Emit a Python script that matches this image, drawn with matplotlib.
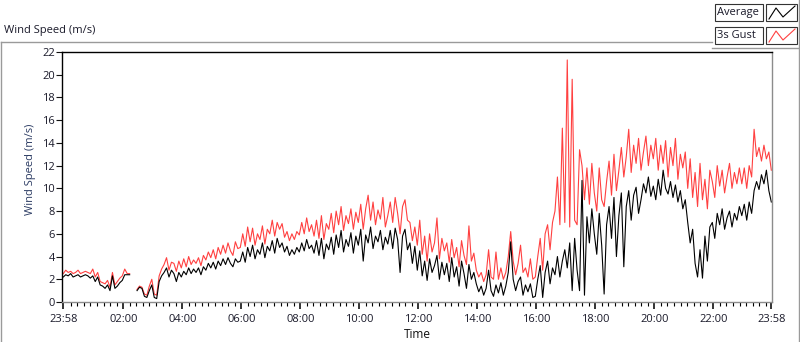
import matplotlib
matplotlib.use("Agg")
import matplotlib.pyplot as plt
import numpy as np
from matplotlib.lines import Line2D
from matplotlib.patches import Rectangle

nan = np.nan

# one value every 5 minutes, starting 23:58
minutes = np.arange(0, 1441, 5)

average = [
    2.2, 2.4, 2.3, 2.5, 2.2, 2.3, 2.4, 2.2, 2.3, 2.4, 2.3, 2.1,
    2.3, 1.8, 2.2, 1.5, 1.4, 1.2, 1.5, 1.0, 2.3, 1.2, 1.4, 1.7,
    1.9, 2.4, 2.4, 2.4, nan, nan, 1.0, 1.3, 1.2, 0.5, 0.4, 1.0,
    1.5, 0.4, 0.3, 1.8, 2.3, 2.6, 3.0, 2.2, 2.8, 2.5, 1.8, 2.6,
    2.2, 2.7, 2.4, 3.0, 2.5, 2.9, 2.6, 3.0, 2.4, 3.1, 2.8, 3.4,
    3.0, 3.5, 2.9, 3.6, 3.2, 3.8, 3.3, 3.9, 3.4, 3.1, 3.8, 3.5,
    3.6, 4.4, 3.5, 4.8, 4.0, 5.0, 3.8, 4.6, 4.2, 5.2, 3.9, 4.9,
    4.5, 5.4, 4.3, 5.6, 4.8, 5.2, 4.4, 4.9, 4.1, 4.6, 4.2, 4.8,
    4.4, 5.2, 4.5, 5.5, 4.7, 5.0, 4.3, 5.4, 4.1, 5.6, 3.8, 5.1,
    4.6, 5.7, 4.2, 5.9, 4.8, 6.3, 4.4, 5.5, 4.9, 6.1, 4.3, 5.8,
    5.0, 6.4, 3.6, 5.9, 5.2, 6.6, 4.7, 5.8, 5.3, 6.3, 4.6, 5.7,
    5.1, 6.3, 4.7, 6.5, 5.5, 2.6, 5.8, 6.4, 4.6, 5.2, 3.4, 4.9,
    2.8, 4.5, 2.3, 3.6, 1.9, 3.8, 2.6, 3.2, 4.1, 2.0, 3.5, 2.4,
    3.4, 1.8, 3.9, 2.2, 3.1, 1.4, 3.6, 2.5, 1.2, 3.3, 2.0, 2.6,
    1.6, 0.9, 1.4, 0.6, 1.2, 2.8, 1.0, 0.5, 1.5, 0.8, 1.7, 0.6,
    1.4, 2.6, 5.3, 2.0, 1.0, 1.8, 2.2, 0.6, 1.5, 0.9, 1.6, 0.4,
    0.5, 2.0, 3.2, 0.4, 2.6, 3.6, 1.6, 3.0, 2.4, 4.0, 2.2, 3.6,
    4.6, 3.0, 5.2, 1.0, 5.6, 2.8, 1.0, 10.7, 0.6, 7.5, 5.2, 8.2,
    6.0, 4.2, 7.8, 5.0, 0.7, 6.8, 8.4, 5.6, 9.2, 4.0, 7.6, 9.6,
    3.1, 8.4, 9.8, 7.2, 9.4, 10.1, 7.8, 9.0, 10.4, 9.6, 11.0, 9.3,
    10.2, 9.0, 10.8, 9.4, 11.6, 10.0, 9.5, 10.6, 9.2, 10.3, 8.8, 9.8,
    8.2, 9.0, 7.0, 5.2, 6.4, 3.4, 2.2, 4.6, 2.1, 5.8, 3.6, 6.6,
    7.0, 5.6, 7.8, 6.8, 8.2, 6.4, 7.4, 8.0, 6.6, 7.8, 7.2, 8.4,
    7.6, 8.6, 7.2, 8.8, 7.8, 9.8, 10.6, 9.9, 11.2, 10.4, 11.6, 9.8,
    8.8,
]

gust = [
    2.5, 2.8, 2.6, 2.7, 2.5, 2.6, 2.8, 2.5, 2.6, 2.7, 2.6, 2.5,
    2.9, 2.2, 2.6, 1.8, 1.7, 1.6, 1.9, 1.3, 2.6, 1.5, 1.8, 2.1,
    2.3, 2.9, 2.5, 2.5, nan, nan, 1.1, 1.4, 1.3, 0.7, 0.6, 1.4,
    2.0, 0.7, 0.6, 2.3, 2.9, 3.3, 3.9, 2.8, 3.5, 3.4, 2.7, 3.6,
    3.0, 3.8, 3.1, 4.0, 3.3, 3.7, 3.4, 3.9, 3.2, 4.1, 3.7, 4.4,
    3.9, 4.6, 3.8, 4.8, 4.2, 5.0, 4.3, 5.2, 4.5, 4.1, 5.3, 4.7,
    4.8, 6.0, 4.9, 6.6, 5.3, 6.5, 5.0, 6.0, 5.5, 6.7, 5.1, 6.4,
    6.0, 7.2, 5.8, 7.0, 6.4, 6.9, 5.7, 6.2, 5.4, 6.0, 5.5, 6.2,
    5.9, 7.0, 6.0, 7.4, 6.2, 6.8, 5.8, 7.2, 5.6, 7.6, 5.5, 6.9,
    6.4, 7.8, 6.1, 8.0, 6.8, 8.4, 6.3, 7.6, 6.9, 8.2, 6.4, 7.9,
    7.0, 8.6, 6.4, 8.2, 9.4, 7.2, 8.8, 6.8, 8.1, 7.3, 9.2, 6.6,
    7.6, 8.8, 7.0, 9.2, 7.8, 6.0, 8.4, 9.0, 7.2, 7.0, 5.4, 6.6,
    5.0, 7.2, 4.2, 5.8, 3.6, 6.0, 4.4, 5.2, 7.4, 3.8, 5.6, 4.5,
    5.2, 3.5, 5.5, 3.9, 4.8, 3.1, 5.4, 4.1, 3.3, 6.7, 3.6, 4.3,
    2.8, 2.2, 2.6, 1.8, 2.4, 4.6, 2.2, 2.0, 4.4, 2.0, 3.0, 2.0,
    2.6, 4.0, 6.2, 3.6, 2.4, 3.4, 5.0, 2.6, 3.0, 2.2, 3.8, 2.0,
    2.2, 4.0, 5.6, 2.8, 6.0, 6.8, 4.6, 7.0, 8.0, 11.0, 6.8, 15.3,
    7.0, 21.3, 6.6, 19.6, 7.2, 6.8, 13.4, 12.0, 9.0, 11.8, 8.6, 12.2,
    9.6, 8.0, 11.8, 9.0, 8.4, 10.6, 12.4, 9.4, 13.0, 9.8, 11.6, 13.6,
    11.0, 12.8, 15.2, 11.4, 13.8, 12.2, 14.4, 11.6, 13.2, 14.6, 12.0, 13.8,
    12.6, 14.4, 11.6, 13.8, 12.2, 14.2, 11.0, 13.6, 12.0, 14.4, 10.8, 13.0,
    11.8, 13.2, 10.0, 12.6, 9.2, 11.4, 8.4, 12.2, 9.0, 10.8, 8.2, 11.6,
    10.6, 9.2, 12.0, 10.2, 11.6, 9.6, 11.0, 12.2, 10.0, 11.4, 10.4, 11.8,
    10.4, 11.8, 10.0, 12.0, 11.0, 15.2, 12.8, 13.6, 12.4, 13.8, 12.6, 13.2,
    11.6,
]

tick_minutes = [0, 122, 242, 362, 482, 602, 722, 842, 962, 1082, 1202, 1322, 1440]
tick_labels = ["23:58", "02:00", "04:00", "06:00", "08:00", "10:00", "12:00",
               "14:00", "16:00", "18:00", "20:00", "22:00", "23:58"]
series_names = ["Average", "3s Gust"]
series_colors = ["#000000", "#ff4040"]

plt.rcParams["font.family"] = ["Open Sans", "DejaVu Sans"]
W, H = 800, 342
fig = plt.figure(figsize=(W / 100, H / 100), dpi=100)
fig.patch.set_facecolor("white")


def fx(px):
    return px / W


def fy(py):
    return 1 - py / H


ax = fig.add_axes([fx(62), fy(302), fx(772) - fx(62), fy(52) - fy(302)])
ax.plot(minutes, np.array(gust, dtype=float), color=series_colors[1], lw=0.8)
ax.plot(minutes, np.array(average, dtype=float), color=series_colors[0], lw=0.8)

ax.set_xlim(-2.6, 1441.4)
ax.set_ylim(0, 22)
ax.set_yticks(np.arange(0, 23, 2))
ax.set_xticks(tick_minutes)
ax.set_xticklabels(tick_labels)
ax.set_xticks([2 + k * 120 / 9 for k in range(1, 108) if k % 9 != 0 and 2 + k * 120 / 9 < 1440], minor=True)
ax.tick_params(axis="both", labelsize=8, colors="#111111", labelcolor="#1a1a2a")
ax.tick_params(axis="y", length=4, width=0.8, pad=1)
ax.tick_params(axis="x", which="major", length=5, width=1.2, pad=4)
ax.tick_params(axis="x", which="minor", length=3, width=0.8)
for side, col in [("top", "#000000"), ("left", "#000000"), ("right", "#8c8c8c"), ("bottom", "#8c8c8c")]:
    ax.spines[side].set_color(col)
    ax.spines[side].set_linewidth(1.0)

ax.set_ylabel("Wind Speed (m/s)", fontsize=8, color="#2a3a62")
ax.yaxis.set_label_coords(-0.036, 0.53)
ax.set_xlabel("Time", fontsize=8.5, color="#111111", labelpad=2)

# outer panel frame and caption
frame = "#9a9a9a"
fig.add_artist(Line2D([fx(0.5), fx(712)], [fy(42), fy(42)], color=frame, lw=1))
fig.add_artist(Line2D([fx(0.8), fx(0.8)], [fy(42), fy(341)], color=frame, lw=1))
fig.add_artist(Line2D([fx(712), fx(798)], [fy(48), fy(48)], color=frame, lw=1))
fig.add_artist(Line2D([fx(798.5), fx(798.5)], [fy(0), fy(341)], color=frame, lw=1))
fig.text(fx(4), fy(30), "Wind Speed (m/s)", fontsize=8, color="#1a1a2a", va="center", ha="left")

# legend
for i, (name, col) in enumerate(zip(series_names, series_colors)):
    top = 4 + i * 23
    fig.add_artist(Rectangle((fx(715), fy(top + 17)), fx(48), fy(0) - fy(17),
                             facecolor="white", edgecolor="#333333", lw=0.8))
    fig.text(fx(717), fy(top + 8.5), name, fontsize=8, color="#1a1a2a", va="center", ha="left")
    fig.add_artist(Rectangle((fx(766), fy(top + 17)), fx(31), fy(0) - fy(17),
                             facecolor="white", edgecolor="#333333", lw=0.8))
    zx = [769, 776, 783, 795]
    zy = [top + 15, top + 4, top + 13, top + 2]
    fig.add_artist(Line2D([fx(v) for v in zx], [fy(v) for v in zy], color=col, lw=0.8))

fig.savefig("out.png", dpi=100)
